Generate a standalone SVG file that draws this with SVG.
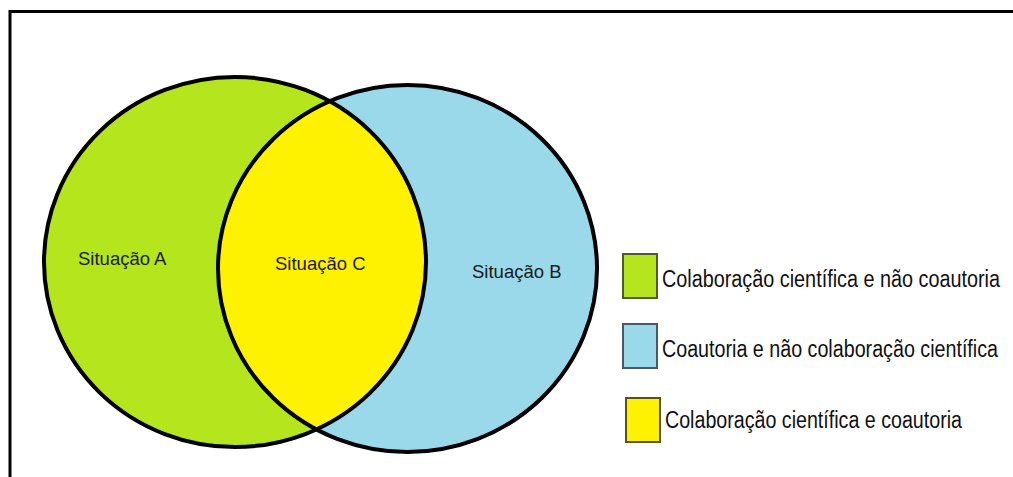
<svg xmlns="http://www.w3.org/2000/svg" width="1013" height="477" viewBox="0 0 1013 477">
  <style>
    .label { font-family: "Liberation Sans", Arial, sans-serif; font-size: 18.5px; fill: #1a1a1a; }
    .legend { font-family: "Liberation Sans", Arial, sans-serif; font-size: 23px; fill: #111; }
    .ring { fill: none; stroke: #000; stroke-width: 4; }
    .swatch { stroke-width: 2; }
  </style>
  <defs>
    <clipPath id="clipA">
      <ellipse cx="235" cy="262" rx="191" ry="185"/>
    </clipPath>
  </defs>

  <rect width="1013" height="477" fill="#fff"/>

  <!-- frame -->
  <g id="frame" stroke="#000" stroke-width="3" fill="none">
    <line x1="10" y1="11.5" x2="1013" y2="11.5"/>
    <line x1="10" y1="10" x2="10" y2="477"/>
  </g>

  <!-- Venn sets -->
  <g id="setA">
    <ellipse cx="235" cy="262" rx="191" ry="185" fill="#B5E61D"/>
  </g>
  <g id="setB">
    <ellipse cx="407.5" cy="268.5" rx="189.5" ry="183.5" fill="#99D9EA"/>
  </g>
  <g id="setC">
    <ellipse cx="407.5" cy="268.5" rx="189.5" ry="183.5" fill="#FFF200" clip-path="url(#clipA)"/>
  </g>
  <g id="outlines">
    <ellipse class="ring" cx="235" cy="262" rx="191" ry="185"/>
    <ellipse class="ring" cx="407.5" cy="268.5" rx="189.5" ry="183.5"/>
  </g>

  <g id="labels">
    <text class="label" x="78" y="265">Situação A</text>
    <text class="label" x="275" y="270">Situação C</text>
    <text class="label" x="472" y="278">Situação B</text>
  </g>

  <!-- legend -->
  <g id="legend-green">
    <rect class="swatch" x="623" y="254" width="34" height="44" fill="#B5E61D" stroke="#4f5a28"/>
    <text class="legend" x="662" y="287" textLength="338" lengthAdjust="spacingAndGlyphs">Colaboração científica e não coautoria</text>
  </g>
  <g id="legend-blue">
    <rect class="swatch" x="623" y="324" width="34" height="44" fill="#99D9EA" stroke="#4a5866"/>
    <text class="legend" x="662" y="357" textLength="336" lengthAdjust="spacingAndGlyphs">Coautoria e não colaboração científica</text>
  </g>
  <g id="legend-yellow">
    <rect class="swatch" x="626" y="398" width="34" height="44" fill="#FFF200" stroke="#5a5218"/>
    <text class="legend" x="665" y="428" textLength="297" lengthAdjust="spacingAndGlyphs">Colaboração científica e coautoria</text>
  </g>
</svg>
